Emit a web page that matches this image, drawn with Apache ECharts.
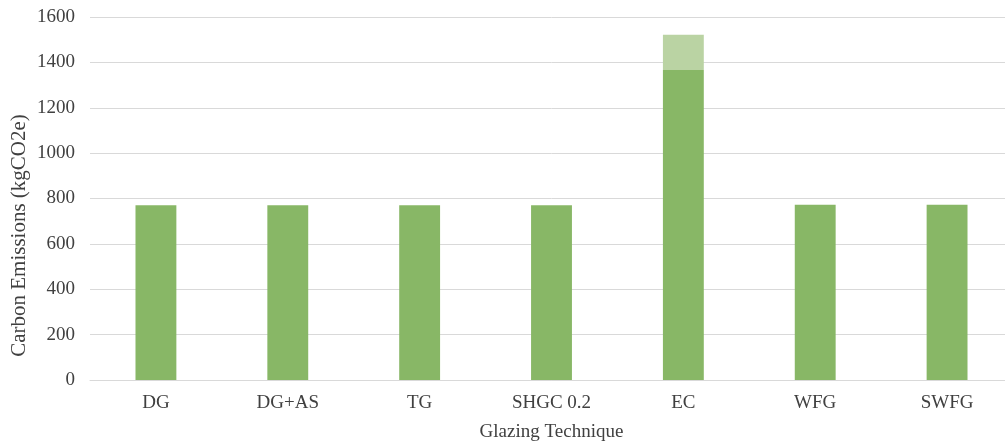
<!DOCTYPE html>
<html>
<head>
<meta charset="utf-8">
<script src="https://cdn.jsdelivr.net/npm/echarts@6/dist/echarts.min.js"></script>
<style>
html,body{margin:0;padding:0;background:#fff;overflow:hidden;}
#c{width:1013px;height:443px;}
</style>
</head>
<body>
<div id="c"></div>
<script>
const categories = ["DG", "DG+AS", "TG", "SHGC 0.2", "EC", "WFG", "SWFG"];
const baseValues = [770, 770, 770, 770, 1366, 772, 772];
const extraValues = [0, 0, 0, 0, 156, 0, 0];
const yTicks = [0, 200, 400, 600, 800, 1000, 1200, 1400, 1600];

const font = "'Liberation Serif', 'Times New Roman', serif";
const chart = echarts.init(document.getElementById('c'), null, {renderer: 'canvas'});
chart.setOption({
  animation: false,
  backgroundColor: '#ffffff',
  grid: {left: 90, top: 17, right: 0, height: 363, containLabel: false, outerBoundsMode: 'none'},
  xAxis: {
    type: 'category',
    data: categories,
    name: 'Glazing Technique',
    nameLocation: 'middle',
    nameGap: 43,
    nameTextStyle: {fontFamily: font, fontSize: 19, lineHeight: 19, color: '#404040'},
    axisLine: {show: true, lineStyle: {color: '#d9d9d9', width: 1}},
    axisTick: {show: false},
    axisLabel: {fontFamily: font, fontSize: 19, lineHeight: 19, color: '#404040', margin: 14}
  },
  yAxis: {
    type: 'value',
    min: yTicks[0],
    max: yTicks[yTicks.length - 1],
    interval: 200,
    name: 'Carbon Emissions (kgCO2e)',
    nameLocation: 'middle',
    nameGap: 60,
    nameMoveOverlap: false,
    nameTextStyle: {fontFamily: font, fontSize: 21, lineHeight: 21, color: '#404040', padding: [0, 74, 0, 0]},
    axisLine: {show: false},
    axisTick: {show: false},
    axisLabel: {fontFamily: font, fontSize: 19, color: '#404040', margin: 15,
      formatter: function (v) { return String(v); }},
    splitLine: {lineStyle: {color: '#d9d9d9', width: 1}}
  },
  series: [
    {
      type: 'bar',
      stack: 'total',
      data: baseValues,
      barWidth: '31%',
      itemStyle: {color: '#88b766'}
    },
    {
      type: 'bar',
      stack: 'total',
      data: extraValues,
      barWidth: '31%',
      itemStyle: {color: '#bad3a3'}
    }
  ]
});
</script>
</body>
</html>
